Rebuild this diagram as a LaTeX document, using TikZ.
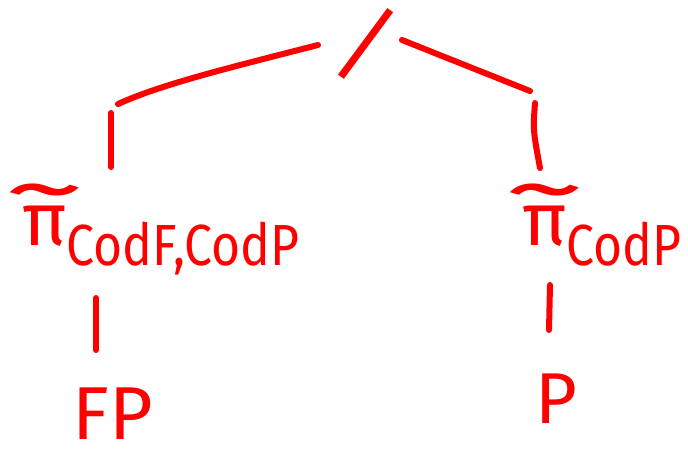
\documentclass[tikz,border=0pt]{standalone}
\usepackage{fontspec}
\setmainfont{Fira Sans}
% pi with a wide tilde on top
\newcommand\pitil{{\ooalign{π\cr\hidewidth\raisebox{0.36em}{\scalebox{2.2}[1.2]{\textasciitilde}}\hidewidth\cr}}}
\newcommand\subtxt[1]{\raisebox{-20pt}{\fontsize{58}{58}\selectfont\scalebox{0.86}[1]{#1}}}
\begin{document}
\begin{tikzpicture}[x=1pt,y=-1pt,
  ink/.style={draw=red, line width=6pt, line cap=round, line join=round},
  lbl/.style={text=red, inner sep=0pt}]
\useasboundingbox (0,0) rectangle (688,453);

% nodes
\node[lbl, rotate=-22, font=\fontsize{90}{90}\selectfont] (root) at (366,44) {/};
\node[lbl, anchor=base west, font=\fontsize{75}{75}\selectfont] (lft) at (22,245) {\pitil\subtxt{CodF,CodP}};
\node[lbl, anchor=base west, font=\fontsize{75}{75}\selectfont] (rgt) at (522,245) {\pitil\subtxt{CodP}};
\node[lbl, anchor=base, font=\fontsize{75}{75}\selectfont] (fp) at (113,439) {FP};
\node[lbl, anchor=base, font=\fontsize{72}{72}\selectfont] (p) at (556,423) {P};

% joints of the branches
\coordinate (rl) at (318,45);
\coordinate (kl) at (118,104);
\coordinate (ul) at (111,113);
\coordinate (dl) at (111,167);
\coordinate (rr) at (402,40);
\coordinate (kr) at (530,91);
\coordinate (ur) at (535,103);
\coordinate (dr) at (540,168);
\coordinate (al) at (96,298);
\coordinate (bl) at (96,350);
\coordinate (ar) at (550,285);
\coordinate (br) at (549,330);

% branches
\draw[ink] (rl) .. controls (220,70) and (160,85) .. (kl);
\draw[ink] (ul) -- (dl);
\draw[ink] (rr) -- (kr);
\draw[ink] (ur) .. controls (533,130) .. (dr);
\draw[ink] (al) -- (bl);
\draw[ink] (ar) -- (br);
\end{tikzpicture}
\end{document}
